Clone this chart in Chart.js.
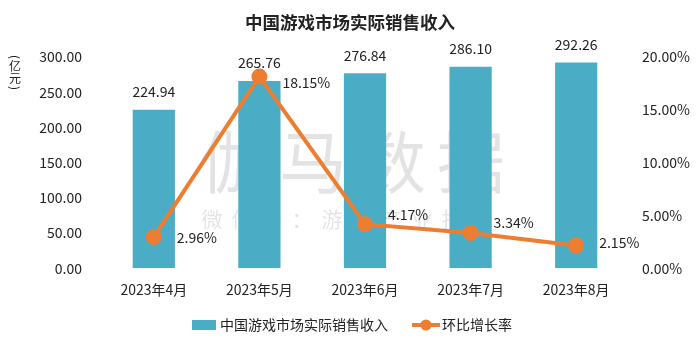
<!DOCTYPE html>
<html>
<head>
<meta charset="utf-8">
<script src="https://cdn.jsdelivr.net/npm/chart.js"></script>
<style>
  html, body { margin: 0; padding: 0; background: #fff; }
  #wrap { width: 700px; height: 346px; }
</style>
</head>
<body>
<div id="wrap"><canvas id="revenueChart"></canvas></div>
<script>
// Monthly actual sales revenue of China's game market
const months = ['2023年4月', '2023年5月', '2023年6月', '2023年7月', '2023年8月'];
const revenue = [224.94, 265.76, 276.84, 286.10, 292.26];      // 亿元
const growthRate = [2.96, 18.15, 4.17, 3.34, 2.15];            // 环比, %
const revenueTicks = [0, 50, 100, 150, 200, 250, 300];
const rateTicks = [0, 5, 10, 15, 20];
const seriesNames = ['中国游戏市场实际销售收入', '环比增长率'];

const BLUE = '#4BACC6';
const ORANGE = '#ED7D31';
const TEXT = '#222222';
const FONT = "'Noto Sans CJK SC', 'Noto Sans', sans-serif";

// watermark behind the bars
const watermark = {
    id: 'watermark',
    beforeDatasetsDraw(chart) {
        const ctx = chart.ctx;
        ctx.save();
        ctx.fillStyle = 'rgba(0,0,0,0.11)';
        ctx.textAlign = 'center';
        ctx.textBaseline = 'middle';
        ctx.font = '68px ' + FONT;
        '伽马数据'.split('').forEach((ch, i) => ctx.fillText(ch, 234 + i * 79, 162));
        ctx.font = '21px ' + FONT;
        '微信号：游戏产业报告'.split('').forEach((ch, i) => ctx.fillText(ch, 212 + i * 30, 219));
        ctx.restore();
    }
};

// value labels: above bars, to the right of line points
const rateNudge = [1, 6, -9, -10, -3];
const valueLabels = {
    id: 'valueLabels',
    afterDatasetsDraw(chart) {
        const ctx = chart.ctx;
        ctx.save();
        ctx.fillStyle = TEXT;
        ctx.font = '14px ' + FONT;
        ctx.textBaseline = 'middle';
        ctx.textAlign = 'center';
        chart.getDatasetMeta(0).data.forEach((el, i) => {
            ctx.fillText(revenue[i].toFixed(2), el.x, el.y - 18);
        });
        ctx.textAlign = 'left';
        chart.getDatasetMeta(1).data.forEach((el, i) => {
            ctx.fillText(growthRate[i].toFixed(2) + '%', el.x + 23, el.y + rateNudge[i]);
        });
        ctx.restore();
    }
};

// (亿元) stacked vertically beside the left axis, and the legend row
const extras = {
    id: 'extras',
    afterDraw(chart) {
        const ctx = chart.ctx;
        ctx.save();
        ctx.fillStyle = TEXT;
        ctx.textAlign = 'center';
        ctx.textBaseline = 'middle';
        ctx.font = '12px ' + FONT;
        const ux = 15;
        [['(', 57], [')', 88]].forEach(([p, y]) => {
            ctx.save();
            ctx.translate(ux, y);
            ctx.rotate(Math.PI / 2);
            ctx.fillText(p, 0, 0);
            ctx.restore();
        });
        ctx.fillText('亿', ux, 66);
        ctx.fillText('元', ux, 78);

        // legend
        ctx.font = '14px ' + FONT;
        ctx.textAlign = 'left';
        const w0 = ctx.measureText(seriesNames[0]).width;
        const w1 = ctx.measureText(seriesNames[1]).width;
        const total = 24 + 4 + w0 + 24 + 28 + 2 + w1;
        let x = 352 - total / 2;
        const y = 325;
        ctx.fillStyle = BLUE;
        ctx.fillRect(x, y - 5, 24, 10);
        x += 28;
        ctx.fillStyle = TEXT;
        ctx.fillText(seriesNames[0], x, y);
        x += w0 + 24;
        ctx.strokeStyle = ORANGE;
        ctx.lineWidth = 4;
        ctx.beginPath(); ctx.moveTo(x, y); ctx.lineTo(x + 28, y); ctx.stroke();
        ctx.fillStyle = ORANGE;
        ctx.beginPath(); ctx.arc(x + 14, y, 5.5, 0, Math.PI * 2); ctx.fill();
        x += 30;
        ctx.fillStyle = TEXT;
        ctx.fillText(seriesNames[1], x, y);
        ctx.restore();
    }
};

const ctx = document.getElementById('revenueChart').getContext('2d');
new Chart(ctx, {
    data: {
        labels: months,
        datasets: [
            {
                type: 'bar',
                label: seriesNames[0],
                data: revenue,
                backgroundColor: BLUE,
                barPercentage: 0.4,
                categoryPercentage: 1,
                yAxisID: 'y',
                order: 2
            },
            {
                type: 'line',
                label: seriesNames[1],
                data: growthRate,
                borderColor: ORANGE,
                backgroundColor: ORANGE,
                borderWidth: 4,
                pointRadius: 6,
                pointHoverRadius: 6,
                tension: 0,
                yAxisID: 'y1',
                order: 1
            }
        ]
    },
    options: {
        responsive: true,
        maintainAspectRatio: false,
        animation: false,
        layout: { padding: { left: 0, right: 0, top: 0, bottom: 35 } },
        plugins: {
            title: {
                display: true,
                text: '中国游戏市场实际销售收入',
                color: TEXT,
                font: { size: 17.5, weight: 'bold', family: FONT },
                padding: { top: 11.5, bottom: 24.5 }
            },
            legend: { display: false },
            tooltip: { enabled: false }
        },
        scales: {
            x: {
                grid: { display: false, drawTicks: false },
                border: { display: false },
                ticks: { color: TEXT, font: { size: 14, family: FONT }, padding: 13 }
            },
            y: {
                position: 'left',
                min: 0, max: 300,
                afterBuildTicks: s => { s.ticks = revenueTicks.map(v => ({ value: v })); },
                afterFit: s => { s.width = 101; },
                grid: { display: false, drawTicks: false },
                border: { display: false },
                ticks: { color: TEXT, font: { size: 14, family: FONT }, padding: 19, callback: v => v.toFixed(2) }
            },
            y1: {
                position: 'right',
                min: 0, max: 20,
                afterBuildTicks: s => { s.ticks = rateTicks.map(v => ({ value: v })); },
                afterFit: s => { s.width = 71; },
                grid: { display: false, drawTicks: false },
                border: { display: false },
                ticks: { color: TEXT, font: { size: 14, family: FONT }, padding: 13, callback: v => v.toFixed(2) + '%' }
            }
        }
    },
    plugins: [watermark, valueLabels, extras]
});
</script>
</body>
</html>
